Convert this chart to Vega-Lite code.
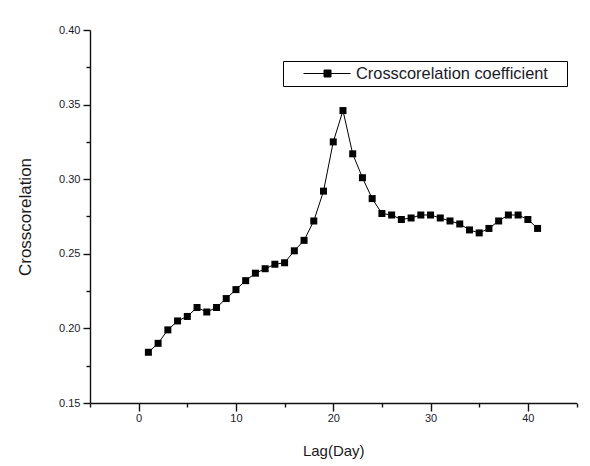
{
  "$schema": "https://vega.github.io/schema/vega-lite/v6.json",
  "width": 486.5,
  "height": 373,
  "autosize": "none",
  "padding": {"left": 90, "top": 30, "right": 13.5, "bottom": 63},
  "background": "white",
  "config": {
    "font": "Liberation Sans",
    "view": {"stroke": null},
    "axis": {
      "grid": false,
      "domainColor": "#111",
      "tickColor": "#111",
      "domainWidth": 1.4,
      "tickWidth": 1.4,
      "labelColor": "#1a1a2a",
      "titleColor": "#1a1a1a",
      "labelFont": "Liberation Sans",
      "titleFont": "Liberation Sans",
      "titleFontWeight": "normal",
      "labelFontSize": 11,
      "labelOverlap": false,
      "labelFlush": false
    }
  },
  "data": {
    "values": [
      {"lag": 1, "r": 0.184, "series": "Crosscorelation coefficient"},
      {"lag": 2, "r": 0.190, "series": "Crosscorelation coefficient"},
      {"lag": 3, "r": 0.199, "series": "Crosscorelation coefficient"},
      {"lag": 4, "r": 0.205, "series": "Crosscorelation coefficient"},
      {"lag": 5, "r": 0.208, "series": "Crosscorelation coefficient"},
      {"lag": 6, "r": 0.214, "series": "Crosscorelation coefficient"},
      {"lag": 7, "r": 0.211, "series": "Crosscorelation coefficient"},
      {"lag": 8, "r": 0.214, "series": "Crosscorelation coefficient"},
      {"lag": 9, "r": 0.220, "series": "Crosscorelation coefficient"},
      {"lag": 10, "r": 0.226, "series": "Crosscorelation coefficient"},
      {"lag": 11, "r": 0.232, "series": "Crosscorelation coefficient"},
      {"lag": 12, "r": 0.237, "series": "Crosscorelation coefficient"},
      {"lag": 13, "r": 0.240, "series": "Crosscorelation coefficient"},
      {"lag": 14, "r": 0.243, "series": "Crosscorelation coefficient"},
      {"lag": 15, "r": 0.244, "series": "Crosscorelation coefficient"},
      {"lag": 16, "r": 0.252, "series": "Crosscorelation coefficient"},
      {"lag": 17, "r": 0.259, "series": "Crosscorelation coefficient"},
      {"lag": 18, "r": 0.272, "series": "Crosscorelation coefficient"},
      {"lag": 19, "r": 0.292, "series": "Crosscorelation coefficient"},
      {"lag": 20, "r": 0.325, "series": "Crosscorelation coefficient"},
      {"lag": 21, "r": 0.346, "series": "Crosscorelation coefficient"},
      {"lag": 22, "r": 0.317, "series": "Crosscorelation coefficient"},
      {"lag": 23, "r": 0.301, "series": "Crosscorelation coefficient"},
      {"lag": 24, "r": 0.287, "series": "Crosscorelation coefficient"},
      {"lag": 25, "r": 0.277, "series": "Crosscorelation coefficient"},
      {"lag": 26, "r": 0.276, "series": "Crosscorelation coefficient"},
      {"lag": 27, "r": 0.273, "series": "Crosscorelation coefficient"},
      {"lag": 28, "r": 0.274, "series": "Crosscorelation coefficient"},
      {"lag": 29, "r": 0.276, "series": "Crosscorelation coefficient"},
      {"lag": 30, "r": 0.276, "series": "Crosscorelation coefficient"},
      {"lag": 31, "r": 0.274, "series": "Crosscorelation coefficient"},
      {"lag": 32, "r": 0.272, "series": "Crosscorelation coefficient"},
      {"lag": 33, "r": 0.270, "series": "Crosscorelation coefficient"},
      {"lag": 34, "r": 0.266, "series": "Crosscorelation coefficient"},
      {"lag": 35, "r": 0.264, "series": "Crosscorelation coefficient"},
      {"lag": 36, "r": 0.267, "series": "Crosscorelation coefficient"},
      {"lag": 37, "r": 0.272, "series": "Crosscorelation coefficient"},
      {"lag": 38, "r": 0.276, "series": "Crosscorelation coefficient"},
      {"lag": 39, "r": 0.276, "series": "Crosscorelation coefficient"},
      {"lag": 40, "r": 0.273, "series": "Crosscorelation coefficient"},
      {"lag": 41, "r": 0.267, "series": "Crosscorelation coefficient"}
    ]
  },
  "encoding": {
    "x": {
      "field": "lag",
      "type": "quantitative",
      "scale": {"domain": [-5, 45], "nice": false, "zero": false},
      "axis": {
        "title": "Lag(Day)",
        "values": [-5, 0, 5, 10, 15, 20, 25, 30, 35, 40, 45],
        "labelExpr": "datum.value % 10 === 0 ? datum.label : ''",
        "tickSize": {"condition": {"test": "datum.value % 10 === 0", "value": 8}, "value": 4},
        "labelPadding": 1,
        "titleFontSize": 15,
        "titleY": 52,
        "titleBaseline": "alphabetic"
      }
    },
    "y": {
      "field": "r",
      "type": "quantitative",
      "scale": {"domain": [0.15, 0.4], "nice": false, "zero": false},
      "axis": {
        "title": "Crosscorelation",
        "values": [0.15, 0.175, 0.2, 0.225, 0.25, 0.275, 0.3, 0.325, 0.35, 0.375, 0.4],
        "format": ".2f",
        "labelExpr": "round(datum.value * 1000) % 50 === 0 ? datum.label : ''",
        "tickSize": {"condition": {"test": "round(datum.value * 1000) % 50 === 0", "value": 7}, "value": 4},
        "labelPadding": 3,
        "titleFontSize": 17,
        "titleX": -60,
        "titleBaseline": "alphabetic"
      }
    }
  },
  "layer": [
    {
      "mark": {"type": "line", "color": "black", "strokeWidth": 1}
    },
    {
      "mark": {"type": "square", "size": 49, "opacity": 1, "filled": true},
      "encoding": {
        "color": {
          "field": "series",
          "type": "nominal",
          "scale": {"range": ["black"]},
          "legend": {
            "title": "\u00a0",
            "titleOrient": "right",
            "titlePadding": 14.5,
            "titleFontSize": 10,
            "orient": "none",
            "legendX": 193,
            "legendY": 31,
            "symbolType": "M-0.492,0H1M0.159,-0.111H0.381V0.111H0.159Z",
            "symbolSize": 3969,
            "symbolFillColor": "black",
            "symbolStrokeColor": "black",
            "symbolStrokeWidth": 1,
            "labelFontSize": 16.4,
            "labelLimit": 400,
            "labelOffset": 5,
            "labelColor": "#1a1a2a",
            "strokeColor": "black",
            "padding": 4,
            "clipHeight": 17
          }
        }
      }
    }
  ]
}
